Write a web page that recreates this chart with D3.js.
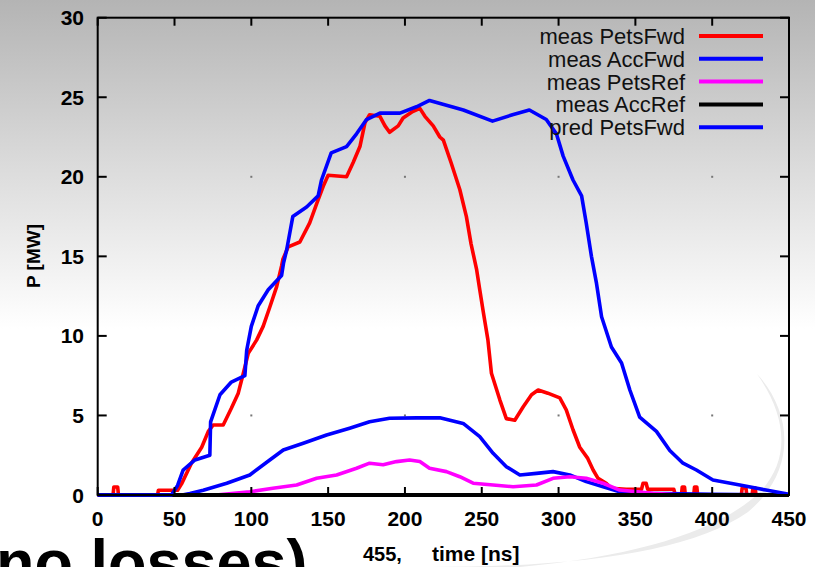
<!DOCTYPE html>
<html>
<head>
<meta charset="utf-8">
<script src="https://cdn.jsdelivr.net/npm/d3@7"></script>
<style>
  html, body { margin: 0; padding: 0; background: #fff; }
  svg { display: block; font-family: "Liberation Sans", Arial, sans-serif; }
</style>
</head>
<body>
<svg id="chart" width="815" height="567"></svg>
<script>
// series data: [time ns, power MW]
var petsFwd = [[0,0],[10,0],[10.5,0.5],[13,0.5],[13.5,0],[39,0],[39.5,0.3],[52,0.3],[54.6,0.7],[61,2.0],[67.7,3.0],
  [72,4.0],[75.2,4.4],[81.7,4.4],[87,5.45],[91.5,6.4],[94.8,7.65],[98,8.9],[103.5,9.75],[107.7,10.6],[112,11.8],
  [116.5,13.1],[119.7,14.4],[120.5,14.8],[124,15.6],[131.6,15.9],[138,17.1],[142.5,18.3],[146.8,19.4],[150,20.1],
  [162,20.0],[166.3,20.9],[170.7,21.9],[174,23.4],[177,23.9],[183.7,23.8],[187,23.2],[190,22.8],[195.6,23.2],
  [198.8,23.7],[205,24.1],[209.7,24.3],[213,23.8],[218.4,23.2],[222.7,22.5],[225,22.3],[230,20.9],[235.7,19.2],
  [240,17.5],[243,15.8],[246.6,14.2],[248.7,12.9],[251,11.5],[254,9.75],[256.3,7.65],[261.7,6.0],[266,4.8],
  [271.5,4.7],[277,5.55],[282.4,6.3],[286.7,6.6],[293,6.4],[300.8,6.1],[305,5.35],[309.4,4.1],[313.8,3.0],
  [319,2.3],[322.5,1.57],[325.7,1.05],[331,0.74],[334.4,0.42],[344,0.36],[354,0.36],[355,0.74],[357,0.74],
  [358,0.36],[375,0.36],[376,0],[380,0],[380.5,0.5],[382,0.5],[382.5,0],[388,0],[388.5,0.5],[390,0.5],[390.5,0],
  [419,0],[419.5,0.45],[422,0.45],[422.5,0],[426,0],[426.5,0.45],[428,0.45],[428.5,0],[450,0]];

var accFwd = [[0,0],[55,0],[60,0.1],[68.7,0.3],[84,0.74],[99,1.26],[112,2.2],[120.8,2.83],[133.8,3.25],[149,3.77],
  [164,4.2],[177,4.6],[190,4.82],[207.5,4.85],[222.7,4.85],[237.9,4.5],[248.7,3.67],[257.4,2.62],[266,1.78],
  [274.8,1.26],[285.6,1.36],[296.4,1.47],[307.3,1.26],[318,0.84],[329,0.52],[339.8,0.2],[360,0.1],[400,0.05],[450,0]];

var petsRef = [[0,0],[77,0],[99,0.2],[114,0.42],[129.5,0.63],[142.5,1.05],[155.5,1.26],[168.5,1.68],[177,2.0],
  [185.8,1.9],[194.5,2.1],[203,2.2],[209.7,2.1],[216,1.68],[227,1.47],[235.7,1.15],[244.4,0.74],[257.4,0.63],
  [270.4,0.52],[285.6,0.63],[296.4,1.05],[307.3,1.15],[318,1.05],[329,0.74],[339.8,0.31],[361.5,0.1],[380,0],[450,0]];

var accRef = [[0,0],[450,0]];

var predPetsFwd = [[0,0],[48,0],[52,0.6],[55.6,1.57],[63.3,2.2],[73,2.5],[73.5,4.6],[79.6,6.3],[87,7.1],[95.8,7.5],
  [97,9.1],[100,10.6],[104.5,11.9],[111,12.9],[119.7,13.8],[121,14.6],[123,15.4],[127,17.5],[136,18.1],[143.5,18.8],
  [145.7,19.8],[152,21.5],[162,21.9],[168.5,22.7],[175,23.6],[183.7,24.0],[196.7,24.0],[207.5,24.4],[216,24.8],
  [238,24.2],[257,23.5],[270,23.9],[281,24.2],[292,23.6],[298.6,22.7],[303,21.3],[309.4,19.8],[315,18.8],
  [318,17.1],[321.4,15.0],[324.7,13.3],[328,11.2],[334.4,9.3],[341,8.3],[346.4,6.6],[352.8,4.9],[363.7,4.0],
  [372.4,2.8],[381,2.0],[389.7,1.57],[400.5,0.94],[418,0.63],[435,0.31],[450,0.05]];

var seriesNames = ["meas PetsFwd", "meas AccFwd", "meas PetsRef", "meas AccRef", "pred PetsFwd"];
var seriesColors = ["#ff0000", "#0000ff", "#ff00ff", "#000000", "#0000ff"];
var seriesData = [petsFwd, accFwd, petsRef, accRef, predPetsFwd];

var xTicks = [0, 50, 100, 150, 200, 250, 300, 350, 400, 450];
var yTicks = [0, 5, 10, 15, 20, 25, 30];
var gridX = [100, 200, 300, 400];
var gridY = [5, 20];

var svg = d3.select("#chart");
var W = 815, H = 567;

// background gradient
var defs = svg.append("defs");
var grad = defs.append("linearGradient").attr("id", "bg")
    .attr("x1", 0).attr("y1", 0).attr("x2", 0).attr("y2", 1);
grad.append("stop").attr("offset", "0%").attr("stop-color", "#b4b4b4");
grad.append("stop").attr("offset", "30%").attr("stop-color", "#dcdcdc");
grad.append("stop").attr("offset", "58%").attr("stop-color", "#ffffff");
grad.append("stop").attr("offset", "100%").attr("stop-color", "#ffffff");
svg.append("rect").attr("width", W).attr("height", H).attr("fill", "url(#bg)");

// decorative swoosh
svg.append("path")
    .attr("d", "M757,374 C792,412 798,470 748,512 C690,552 580,567 430,567 L520,567 C640,556 720,530 760,492 C790,460 788,418 757,374 Z")
    .attr("fill", "#ebebeb");

var x = d3.scaleLinear().domain([0, 450]).range([97.7, 789]);
var y = d3.scaleLinear().domain([0, 30]).range([495, 17.7]);

// grid dots
gridX.forEach(function (gx) {
    gridY.forEach(function (gy) {
        svg.append("rect").attr("x", x(gx) - 1).attr("y", y(gy) - 1)
            .attr("width", 2).attr("height", 2).attr("fill", "#777");
    });
});

// data lines
var line = d3.line().x(d => x(d[0])).y(d => y(d[1]));
seriesData.forEach(function (s, i) {
    svg.append("path").datum(s)
        .attr("d", line)
        .attr("fill", "none")
        .attr("stroke", seriesColors[i])
        .attr("stroke-width", i == 3 ? 4 : 3.6)
        .attr("stroke-linejoin", "round");
});

// frame
svg.append("rect")
    .attr("x", x(0)).attr("y", y(30))
    .attr("width", x(450) - x(0)).attr("height", y(0) - y(30))
    .attr("fill", "none").attr("stroke", "#000").attr("stroke-width", 2);

// ticks (inward)
var g = svg.append("g").attr("stroke", "#000").attr("stroke-width", 2);
yTicks.forEach(function (t) {
    g.append("line").attr("x1", x(0)).attr("x2", x(0) + 9).attr("y1", y(t)).attr("y2", y(t));
    g.append("line").attr("x1", x(450)).attr("x2", x(450) - 9).attr("y1", y(t)).attr("y2", y(t));
});
xTicks.forEach(function (t) {
    g.append("line").attr("x1", x(t)).attr("x2", x(t)).attr("y1", y(0)).attr("y2", y(0) - 8);
    g.append("line").attr("x1", x(t)).attr("x2", x(t)).attr("y1", y(30)).attr("y2", y(30) + 8);
});

// tick labels
svg.selectAll(".yl").data(yTicks).enter().append("text")
    .attr("x", 84).attr("y", d => y(d)).attr("dy", "0.36em")
    .attr("text-anchor", "end").attr("font-size", 21).attr("font-weight", "bold")
    .text(d => d);
svg.selectAll(".xl").data(xTicks).enter().append("text")
    .attr("x", d => x(d)).attr("y", 518).attr("dy", "0.36em")
    .attr("text-anchor", "middle").attr("font-size", 21).attr("font-weight", "bold")
    .text(d => d);

// axis titles
svg.append("text").attr("transform", "translate(40,256) rotate(-90)")
    .attr("text-anchor", "middle").attr("font-size", 19).attr("font-weight", "bold")
    .text("P [MW]");
svg.append("text").attr("x", 363).attr("y", 561)
    .attr("font-size", 20).attr("font-weight", "bold").text("455,");
svg.append("text").attr("x", 432).attr("y", 561)
    .attr("font-size", 21).attr("font-weight", "bold").text("time [ns]");

// legend
seriesNames.forEach(function (name, i) {
    var ly = 36 + i * 22.8;
    svg.append("text").attr("x", 685).attr("y", ly).attr("dy", "0.36em")
        .attr("text-anchor", "end").attr("font-size", 22).attr("fill", "#111")
        .text(name);
    svg.append("line").attr("x1", 699).attr("x2", 763).attr("y1", ly).attr("y2", ly)
        .attr("stroke", seriesColors[i]).attr("stroke-width", 4);
});

// slide text cut by the bottom edge
svg.append("text").attr("x", -4).attr("y", 584)
    .attr("font-size", 63).attr("font-weight", "bold").text("no losses)");
</script>
</body>
</html>
